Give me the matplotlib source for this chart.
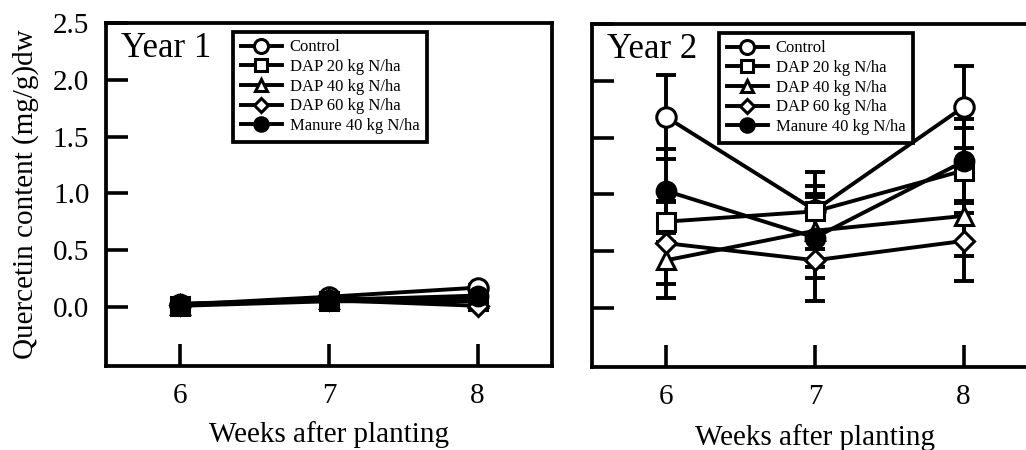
import numpy as np
import matplotlib.pyplot as plt

plt.rcParams['font.family'] = ['Liberation Serif', 'DejaVu Serif']

weeks = [6, 7, 8]
treatments = ['Control', 'DAP 20 kg N/ha', 'DAP 40 kg N/ha',
              'DAP 60 kg N/ha', 'Manure 40 kg N/ha']

# Year 1 : quercetin (mg/g dw), error bars are hidden under the markers
y1_control = [0.02, 0.09, 0.17]
y1_dap20 = [0.01, 0.05, 0.05]
y1_dap40 = [0.02, 0.07, 0.08]
y1_dap60 = [0.02, 0.06, 0.01]
y1_manure = [0.03, 0.06, 0.10]
y1_err = [0.02, 0.02, 0.02]

# Year 2 : means and error bars
y2_control = [1.68, 0.86, 1.77]
y2_dap20 = [0.76, 0.85, 1.21]
y2_dap40 = [0.42, 0.68, 0.81]
y2_dap60 = [0.57, 0.42, 0.59]
y2_manure = [1.03, 0.62, 1.29]
y2_control_err = [0.37, 0.34, 0.36]
y2_dap20_err = [0.18, 0.22, 0.37]
y2_dap40_err = [0.33, 0.32, 0.35]
y2_dap60_err = [0.36, 0.36, 0.35]
y2_manure_err = [0.37, 0.36, 0.37]

year1 = [y1_control, y1_dap20, y1_dap40, y1_dap60, y1_manure]
year1_err = [y1_err] * 5
year2 = [y2_control, y2_dap20, y2_dap40, y2_dap60, y2_manure]
year2_err = [y2_control_err, y2_dap20_err, y2_dap40_err, y2_dap60_err, y2_manure_err]

# marker style per treatment : (marker, size, face)
styles = [('o', 14, 'white'), ('s', 12.5, 'white'), ('^', 12.5, 'white'),
          ('D', 10, 'white'), ('o', 13.5, 'black')]

LW = 2.8
fig = plt.figure(figsize=(10.26, 4.5), dpi=100)
ax1 = fig.add_axes([106 / 1026, 84 / 450, 446 / 1026, 343 / 450])
ax2 = fig.add_axes([592 / 1026, 83 / 450, 446 / 1026, 343 / 450])


def draw_panel(ax, data, errs, title):
    for vals, err, (m, ms, fc), lab in zip(data, errs, styles, treatments):
        ax.errorbar(weeks, vals, yerr=err, fmt='none', ecolor='k',
                    elinewidth=LW, capsize=7, capthick=LW, zorder=2)
        ax.plot(weeks, vals, color='k', lw=LW, marker=m, ms=ms,
                mfc=fc, mec='k', mew=2.2, label=lab, zorder=3)

    ax.set_xlim(5.5, 8.5)
    ax.set_ylim(-0.52, 2.5)
    ax.set_xticks(weeks)
    ax.set_yticks([0.0, 0.5, 1.0, 1.5, 2.0, 2.5])
    ax.set_yticklabels(['0.0', '0.5', '1.0', '1.5', '2.0', '2.5'])
    ax.tick_params(direction='in', length=16, width=2.6, labelsize=21)
    ax.tick_params(axis='x', pad=12)
    ax.tick_params(axis='y', pad=12)
    for sp in ax.spines.values():
        sp.set_linewidth(2.7)

    ax.text(0.033, 0.975, title, transform=ax.transAxes, fontsize=25,
            va='top', ha='left')

    leg = ax.legend(loc='upper left', bbox_to_anchor=(0.285, 0.974),
                    fontsize=12, frameon=True, fancybox=False, edgecolor='k',
                    framealpha=1, handlelength=2.5, handletextpad=0.45,
                    labelspacing=0.22, borderpad=0.45, borderaxespad=0,
                    markerscale=0.72)
    leg.get_frame().set_linewidth(2.7)


draw_panel(ax1, year1, year1_err, 'Year 1')
draw_panel(ax2, year2, year2_err, 'Year 2')

ax1.set_xlabel('Weeks after planting', fontsize=21, labelpad=9)
ax1.set_ylabel('Quercetin content (mg/g)dw', fontsize=21, labelpad=10)

ax2.set_xlabel('Weeks after planting', fontsize=21, labelpad=10)
ax2.set_yticklabels([])

fig.savefig('out.png', dpi=100)
